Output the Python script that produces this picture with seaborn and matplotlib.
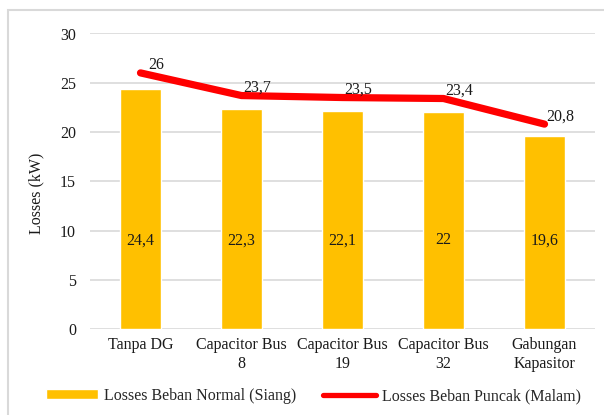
import numpy as np
import matplotlib
matplotlib.use('Agg')
import matplotlib.pyplot as plt
import seaborn as sns
from matplotlib.patches import Rectangle

# data
categories = ['Tanpa DG', 'Capacitor Bus\n8', 'Capacitor Bus\n19', 'Capacitor Bus\n32', 'Gabungan\nKapasitor']
normal = [24.4, 22.3, 22.1, 22, 19.6]
peak = [26, 23.7, 23.5, 23.4, 20.8]
normal_labels = ['24,4', '22,3', '22,1', '22', '19,6']
peak_labels = ['26', '23,7', '23,5', '23,4', '20,8']

sns.set_style('white')
plt.rcParams['font.family'] = ['Liberation Serif', 'DejaVu Serif']
plt.rcParams['font.size'] = 11.5

fig = plt.figure(figsize=(6.04, 4.15), dpi=100)
ax = fig.add_axes([90 / 604, 86 / 415, 505 / 604, 295.5 / 415])

sns.barplot(x=categories, y=normal, color='#FFC000', saturation=1, width=0.405,
            ax=ax, label='Losses Beban Normal (Siang)', zorder=2)
sns.lineplot(x=np.arange(len(peak)), y=peak, color='#FF0000', linewidth=5.2,
             solid_capstyle='round', ax=ax, label='Losses Beban Puncak (Malam)', zorder=3)

# labels
for i, (v, t) in enumerate(zip(normal, normal_labels)):
    ax.text(i, 9.0, t, ha='center', va='center', fontsize=11.5, color='#1a1a1a', zorder=4)
for i, (v, t) in enumerate(zip(peak, peak_labels)):
    ax.annotate(t, (i, v), xytext=(11, 5.5), textcoords='offset points',
                ha='center', va='center', fontsize=11.5, color='#1a1a1a', zorder=4)

ax.set_ylim(0, 30)
ax.set_xlim(-0.5, 4.5)
ax.set_yticks(range(0, 31, 5))
ax.yaxis.grid(True, color='#D9D9D9', linewidth=1.2)
ax.set_axisbelow(True)
sns.despine(ax=ax, left=True, bottom=True)
ax.tick_params(axis='both', length=0, labelsize=11.5, colors='#1a1a1a')
ax.tick_params(axis='y', pad=10)
ax.tick_params(axis='x', pad=6)
ax.set_ylabel('Losses (kW)', fontsize=11.5, color='#1a1a1a')
ax.yaxis.set_label_coords(-0.09, 0.46)
ax.set_xlabel('')

h, l = ax.get_legend_handles_labels()
order = [l.index('Losses Beban Normal (Siang)'), l.index('Losses Beban Puncak (Malam)')]
leg = ax.legend([h[i] for i in order], [l[i] for i in order],
                loc='center', bbox_to_anchor=(313 / 604, 19 / 415), bbox_transform=fig.transFigure,
                ncol=2, frameon=False, fontsize=11.5, handlelength=3.3, handletextpad=0.35,
                columnspacing=1.7, handleheight=0.6)
leg.get_lines()[0].set_linewidth(3.8)

fig.patches.append(Rectangle((8 / 604, -0.1), 1.2, (415 - 10) / 415 + 0.1,
                             transform=fig.transFigure, fill=False,
                             edgecolor='#D9D9D9', linewidth=1.5, zorder=0))

fig.savefig('out.png', dpi=100)
